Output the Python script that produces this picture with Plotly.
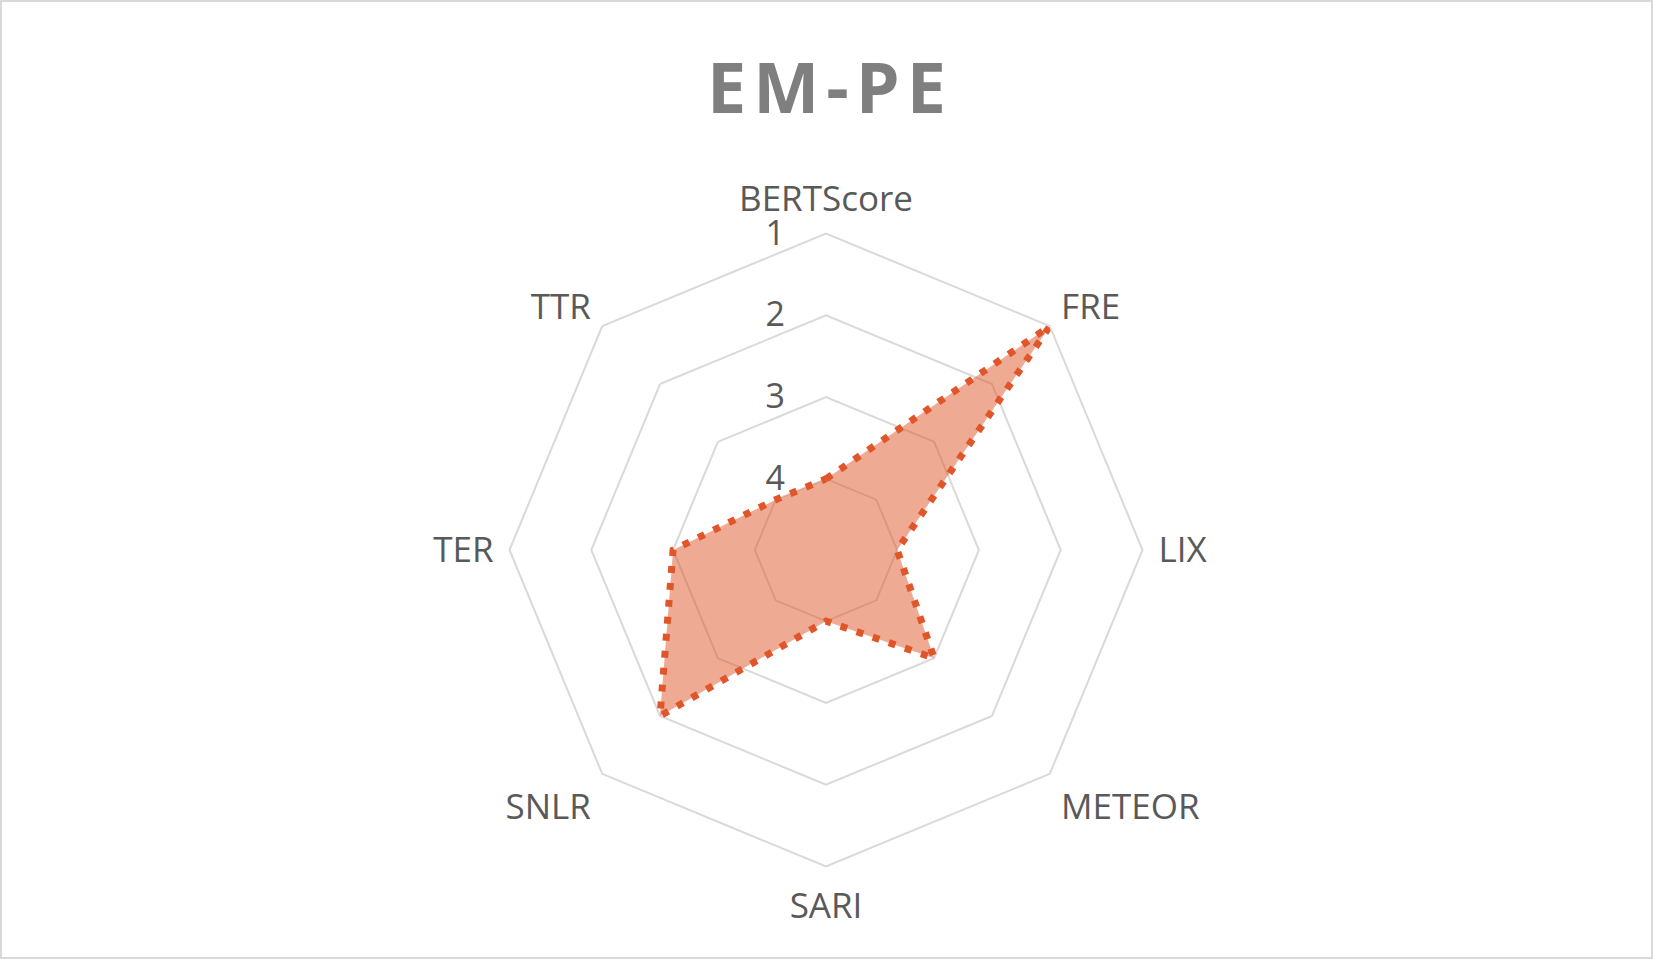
import plotly.graph_objects as go

categories = ["BERTScore", "FRE", "LIX", "METEOR", "SARI", "SNLR", "TER", "TTR"]
values = [4, 1, 4, 3, 4, 2, 3, 4]
radial_ticks = [1, 2, 3, 4]
title_text = "E\u200aM\u200a-\u200aP\u200aE"

W, H = 1653, 959
cx, cy, R = 826.0, 550.0, 316.5

line_color = "rgb(224,85,42)"
fill_color = "rgba(224,85,42,0.5)"
grid_color = "#d9d9d9"
text_color = "#595959"

fig = go.Figure()
fig.add_trace(go.Scatterpolar(
    r=values + values[:1],
    theta=categories + categories[:1],
    mode="lines",
    fill="toself",
    fillcolor=fill_color,
    line=dict(color=line_color, width=7, dash="7px,10px"),
    hoverinfo="skip",
))

fig.update_layout(
    width=W, height=H,
    margin=dict(l=0, r=0, t=0, b=0),
    paper_bgcolor="white",
    plot_bgcolor="white",
    showlegend=False,
    title=dict(
        text=title_text,
        x=0.5, xanchor="center",
        y=1 - 88 / H, yanchor="middle", yref="container",
        font=dict(family="Open Sans", size=70, color="#7f7f7f", weight="bold"),
    ),
    polar=dict(
        domain=dict(x=[(cx - R) / W, (cx + R) / W], y=[(H - cy - R) / H, (H - cy + R) / H]),
        bgcolor="white",
        gridshape="linear",
        radialaxis=dict(
            range=[4.87, 1],
            tickvals=radial_ticks,
            ticktext=[str(v) + "\u00a0" * 4 for v in radial_ticks],
            showline=False,
            ticks="",
            angle=90,
            tickangle=90,
            side="counterclockwise",
            gridcolor=grid_color,
            gridwidth=2,
            tickfont=dict(family="Open Sans", size=34, color=text_color),
        ),
        angularaxis=dict(
            direction="clockwise",
            rotation=90,
            showgrid=False,
            showline=True,
            linecolor=grid_color,
            linewidth=2,
            ticks="outside",
            ticklen=8,
            tickcolor="rgba(0,0,0,0)",
            tickfont=dict(family="Open Sans", size=35, color=text_color),
        ),
    ),
    shapes=[dict(
        type="rect", xref="paper", yref="paper",
        x0=1 / W, x1=1 - 1 / W, y0=1 / H, y1=1 - 1 / H,
        line=dict(color=grid_color, width=2), layer="above",
    )],
)

fig.write_html("out.html")
